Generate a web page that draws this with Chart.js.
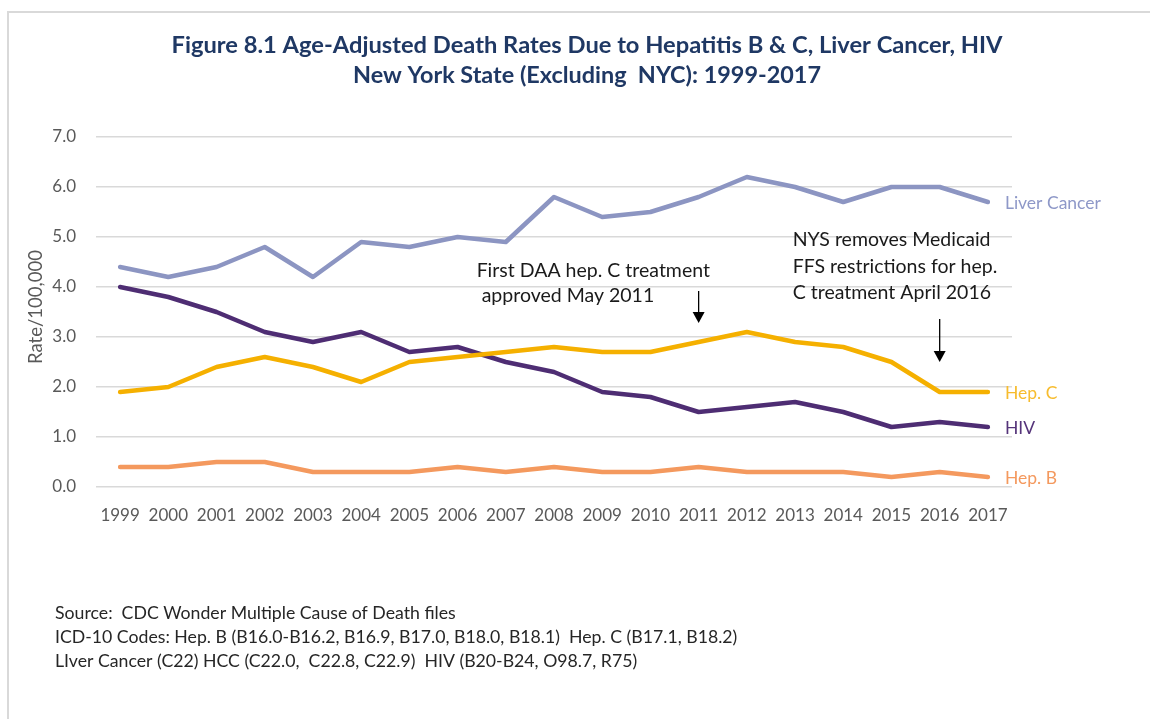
<!DOCTYPE html>
<html>
<head>
<meta charset="utf-8">
<script src="https://cdn.jsdelivr.net/npm/chart.js@4.4.1/dist/chart.umd.min.js"></script>
<style>
    html, body {margin: 0; padding: 0; background: #fff;}
    #wrap {position: relative; width: 1150px; height: 719px;}
</style>
</head>
<body>
<div id="wrap"><canvas id="myChart"></canvas></div>
<script>
const years = ['1999', '2000', '2001', '2002', '2003', '2004', '2005', '2006', '2007', '2008',
    '2009', '2010', '2011', '2012', '2013', '2014', '2015', '2016', '2017'];
const liverCancer = [4.4, 4.2, 4.4, 4.8, 4.2, 4.9, 4.8, 5.0, 4.9, 5.8, 5.4, 5.5, 5.8, 6.2, 6.0, 5.7, 6.0, 6.0, 5.7];
const hepC = [1.9, 2.0, 2.4, 2.6, 2.4, 2.1, 2.5, 2.6, 2.7, 2.8, 2.7, 2.7, 2.9, 3.1, 2.9, 2.8, 2.5, 1.9, 1.9];
const hiv = [4.0, 3.8, 3.5, 3.1, 2.9, 3.1, 2.7, 2.8, 2.5, 2.3, 1.9, 1.8, 1.5, 1.6, 1.7, 1.5, 1.2, 1.3, 1.2];
const hepB = [0.4, 0.4, 0.5, 0.5, 0.3, 0.3, 0.3, 0.4, 0.3, 0.4, 0.3, 0.3, 0.4, 0.3, 0.3, 0.3, 0.2, 0.3, 0.2];
const seriesNames = ['Liver Cancer', 'Hep. C', 'HIV', 'Hep. B'];
const seriesColors = ['#8C95C2', '#F5B000', '#4E2D73', '#F4995E'];
const labelColors = ['#8E98C8', '#F7BC2E', '#55347A', '#F4995E'];
const yTicks = [0, 1, 2, 3, 4, 5, 6, 7];

const titleLines = ['Figure 8.1 Age-Adjusted Death Rates Due to Hepatitis B & C, Liver Cancer, HIV',
    'New York State (Excluding  NYC): 1999-2017'];
const sourceLines = ['Source:  CDC Wonder Multiple Cause of Death files',
    'ICD-10 Codes: Hep. B (B16.0-B16.2, B16.9, B17.0, B18.0, B18.1)  Hep. C (B17.1, B18.2)',
    'LIver Cancer (C22) HCC (C22.0,  C22.8, C22.9)  HIV (B20-B24, O98.7, R75)'];
const note2011 = ['First DAA hep. C treatment', 'approved May 2011'];
const note2016 = ['NYS removes Medicaid', 'FFS restrictions for hep.', 'C treatment April 2016'];

const FONT = 'Lato, "Open Sans", sans-serif';

function txt(ctx, s, x, y, size, color, opts) {
    opts = opts || {};
    ctx.save();
    ctx.font = (opts.bold ? 'bold ' : '') + size + 'px ' + FONT;
    ctx.fillStyle = color;
    ctx.textAlign = opts.align || 'left';
    ctx.textBaseline = opts.baseline || 'alphabetic';
    if (opts.width) ctx.fillText(s, x, y, opts.width); else ctx.fillText(s, x, y);
    ctx.restore();
}

function arrow(ctx, x, y1, y2) {
    ctx.save();
    ctx.strokeStyle = '#000';
    ctx.fillStyle = '#000';
    ctx.lineWidth = 1.3;
    ctx.beginPath();
    ctx.moveTo(x, y1);
    ctx.lineTo(x, y2 - 9);
    ctx.stroke();
    ctx.beginPath();
    ctx.moveTo(x - 6, y2 - 11);
    ctx.lineTo(x + 6, y2 - 11);
    ctx.lineTo(x, y2);
    ctx.closePath();
    ctx.fill();
    ctx.restore();
}

const extras = {
    id: 'extras',
    beforeDraw(chart) {
        const ctx = chart.ctx;
        ctx.save();
        ctx.strokeStyle = '#D9D9D9';
        ctx.lineWidth = 2;
        ctx.beginPath();
        ctx.moveTo(8, 719);
        ctx.lineTo(8, 12);
        ctx.lineTo(1150, 12);
        ctx.stroke();
        ctx.restore();
    },
    afterDraw(chart) {
        const ctx = chart.ctx, xs = chart.scales.x;

        txt(ctx, titleLines[0], 587, 53, 23.7, '#1F3864', {bold: true, align: 'center', width: 835});
        txt(ctx, titleLines[1], 587, 83, 23.7, '#1F3864', {bold: true, align: 'center', width: 468});

        // y axis title
        ctx.save();
        ctx.translate(36, 307);
        ctx.rotate(-Math.PI / 2);
        txt(ctx, 'Rate/100,000', 0, 0, 18.5, '#595959', {align: 'center', baseline: 'middle', width: 130});
        ctx.restore();

        // series names next to the last point
        const last = years.length - 1;
        chart.data.datasets.forEach(function (ds, i) {
            const pt = chart.getDatasetMeta(i).data[last];
            txt(ctx, seriesNames[i], pt.x + 17, pt.y + 1, 17.5, labelColors[i], {baseline: 'middle', width: 97});
        });

        // annotations
        const x11 = xs.getPixelForValue(years.indexOf('2011'));
        txt(ctx, note2011[0], x11 - 222, 277, 19.5, '#1a1a1a', {width: 236});
        txt(ctx, note2011[1], x11 - 217, 302, 19.5, '#1a1a1a', {width: 176});
        arrow(ctx, x11, 291, 323);

        const x16 = xs.getPixelForValue(years.indexOf('2016'));
        txt(ctx, note2016[0], x16 - 147, 246, 19.5, '#1a1a1a', {width: 203});
        txt(ctx, note2016[1], x16 - 147, 273, 19.5, '#1a1a1a', {width: 208});
        txt(ctx, note2016[2], x16 - 147, 299, 19.5, '#1a1a1a', {width: 204});
        arrow(ctx, x16, 319, 362);

        txt(ctx, sourceLines[0], 55, 619, 17.7, '#262626', {width: 406});
        txt(ctx, sourceLines[1], 55, 643, 17.7, '#262626', {width: 683});
        txt(ctx, sourceLines[2], 55, 667, 17.7, '#262626', {width: 596});
    }
};

new Chart(document.getElementById('myChart'), {
    type: 'line',
    data: {
        labels: years,
        datasets: [liverCancer, hepC, hiv, hepB].map(function (vals, i) {
            return {
                label: seriesNames[i],
                data: vals,
                borderColor: seriesColors[i],
                backgroundColor: seriesColors[i],
                borderWidth: 4.5,
                pointRadius: 0,
                tension: 0,
                borderJoinStyle: 'round',
                borderCapStyle: 'round'
            };
        })
    },
    options: {
        responsive: true,
        maintainAspectRatio: false,
        animation: false,
        layout: {padding: {left: 0, right: 138, top: 137, bottom: 192}},
        plugins: {legend: {display: false}, title: {display: false}, tooltip: {enabled: false}},
        scales: {
            x: {
                offset: true,
                grid: {display: false},
                border: {display: false},
                ticks: {color: '#595959', font: {family: FONT, size: 17}, padding: 10, maxRotation: 0, autoSkip: false},
                afterFit: function (scale) { scale.height = 40; }
            },
            y: {
                min: 0,
                max: 7,
                afterBuildTicks: function (scale) { scale.ticks = yTicks.map(function (v) { return {value: v}; }); },
                grid: {color: '#D9D9D9', lineWidth: 1.5, drawTicks: false},
                border: {display: false},
                ticks: {color: '#595959', font: {family: FONT, size: 17}, padding: 20,
                    callback: function (v) { return Number(v).toFixed(1); }},
                afterFit: function (scale) { scale.width = 96; }
            }
        }
    },
    plugins: [extras]
});
</script>
</body>
</html>
